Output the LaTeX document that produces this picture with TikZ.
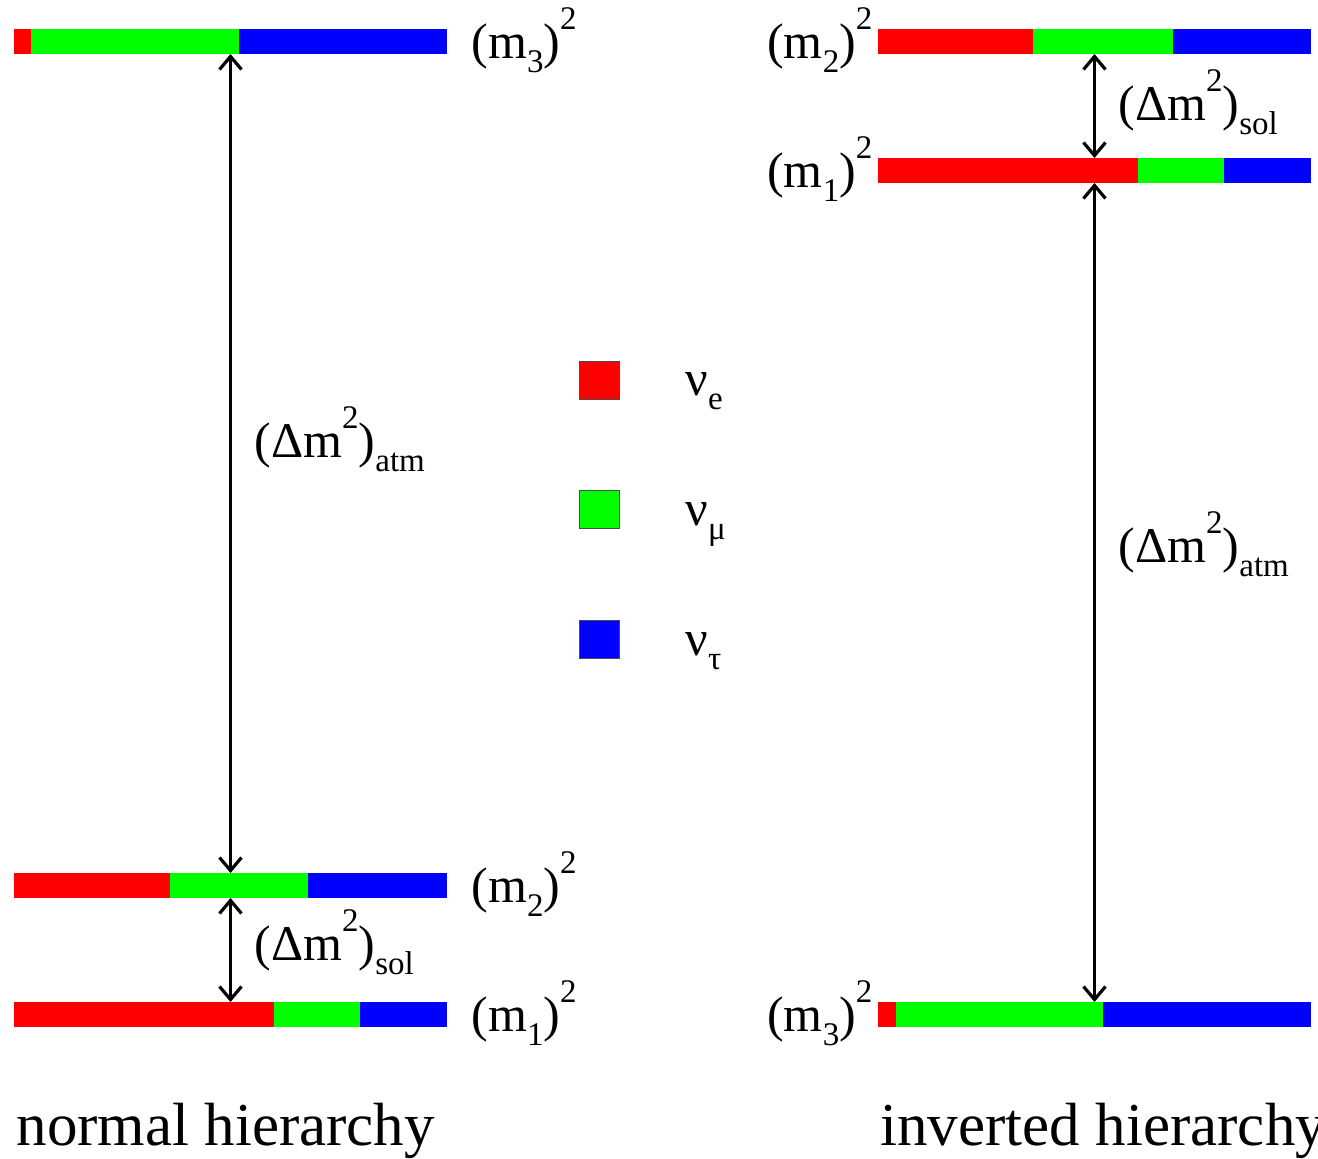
\documentclass[tikz,border=0pt]{standalone}
\usepackage{fontspec}
\setmainfont{Liberation Serif}
\usetikzlibrary{arrows.meta}
\definecolor{nue}{RGB}{255,0,0}
\definecolor{num}{RGB}{0,255,0}
\definecolor{nut}{RGB}{0,0,255}
\newcommand{\lowidx}[1]{\raisebox{-14pt}{\fontsize{33pt}{33pt}\selectfont #1}}
\newcommand{\highidx}[1]{\raisebox{29pt}{\fontsize{33pt}{33pt}\selectfont #1}}

\begin{document}
\begin{tikzpicture}[x=1pt,y=-1pt,font=\fontsize{50pt}{60pt}\selectfont]
        \useasboundingbox (0,0) rectangle (1318,1159);

        \begin{scope}[every node/.style={minimum width=433pt,minimum height=25pt,inner sep=0pt,outer sep=0pt}]
            \node (n3) at (230.5,41.5) {};
            \node (n2) at (230.5,885.5) {};
            \node (n1) at (230.5,1014.5) {};
            \node (i2) at (1094.5,41.5) {};
            \node (i1) at (1094.5,170.5) {};
            \node (i3) at (1094.5,1014.5) {};
        \end{scope}

        \foreach \y/\e/\m in {29/31/239, 873/170/308, 1002/274/360} {
            \fill[nue] (14,\y) rectangle (\e,\y+25);
            \fill[num] (\e,\y) rectangle (\m,\y+25);
            \fill[nut] (\m,\y) rectangle (447,\y+25);
        }
        \foreach \y/\e/\m in {29/1033/1173, 158/1138/1224, 1002/896/1103} {
            \fill[nue] (878,\y) rectangle (\e,\y+25);
            \fill[num] (\e,\y) rectangle (\m,\y+25);
            \fill[nut] (\m,\y) rectangle (1311,\y+25);
        }

        \begin{scope}[>={Straight Barb[length=13pt,width=22pt]},line width=3.2pt,
                    every edge/.style={draw=black,line width=3.2pt}]
            \path [<->] (n3) edge (n2);
            \path [<->] (n2) edge (n1);
            \path [<->] (i2) edge (i1);
            \path [<->] (i1) edge (i3);
        \end{scope}

        \begin{scope}[every node/.style={anchor=base west}]
            \node (m3n) at (468,58) {(m\lowidx{3})\highidx{2}};
            \node (m2n) at (468,902) {(m\lowidx{2})\highidx{2}};
            \node (m1n) at (468,1031) {(m\lowidx{1})\highidx{2}};
            \node (atmn) at (251,457) {(Δm\highidx{2})\lowidx{atm}};
            \node (soln) at (251,960) {(Δm\highidx{2})\lowidx{sol}};
            \node (soli) at (1115,120) {(Δm\highidx{2})\lowidx{sol}};
            \node (atmi) at (1115,562) {(Δm\highidx{2})\lowidx{atm}};
            \node (le) at (682,395) {ν\lowidx{e}};
            \node (lm) at (682,525) {ν\lowidx{μ}};
            \node (lt) at (682,655) {ν\lowidx{τ}};
            \node[font=\fontsize{61pt}{70pt}\selectfont] (tn) at (13,1145) {normal hierarchy};
            \node[font=\fontsize{61pt}{70pt}\selectfont] (ti) at (877,1145) {inverted hierarchy};
        \end{scope}

        \begin{scope}[every node/.style={anchor=base east}]
            \node (m2i) at (876,58) {(m\lowidx{2})\highidx{2}};
            \node (m1i) at (876,187) {(m\lowidx{1})\highidx{2}};
            \node (m3i) at (876,1031) {(m\lowidx{3})\highidx{2}};
        \end{scope}

        \begin{scope}[every node/.style={draw=black!70,line width=1pt,minimum width=40pt,minimum height=38pt,inner sep=0pt}]
            \node[fill=nue] (ke) at (599.5,380) {};
            \node[fill=num] (km) at (599.5,509.5) {};
            \node[fill=nut] (kt) at (599.5,639) {};
        \end{scope}
    \end{tikzpicture}
\end{document}
